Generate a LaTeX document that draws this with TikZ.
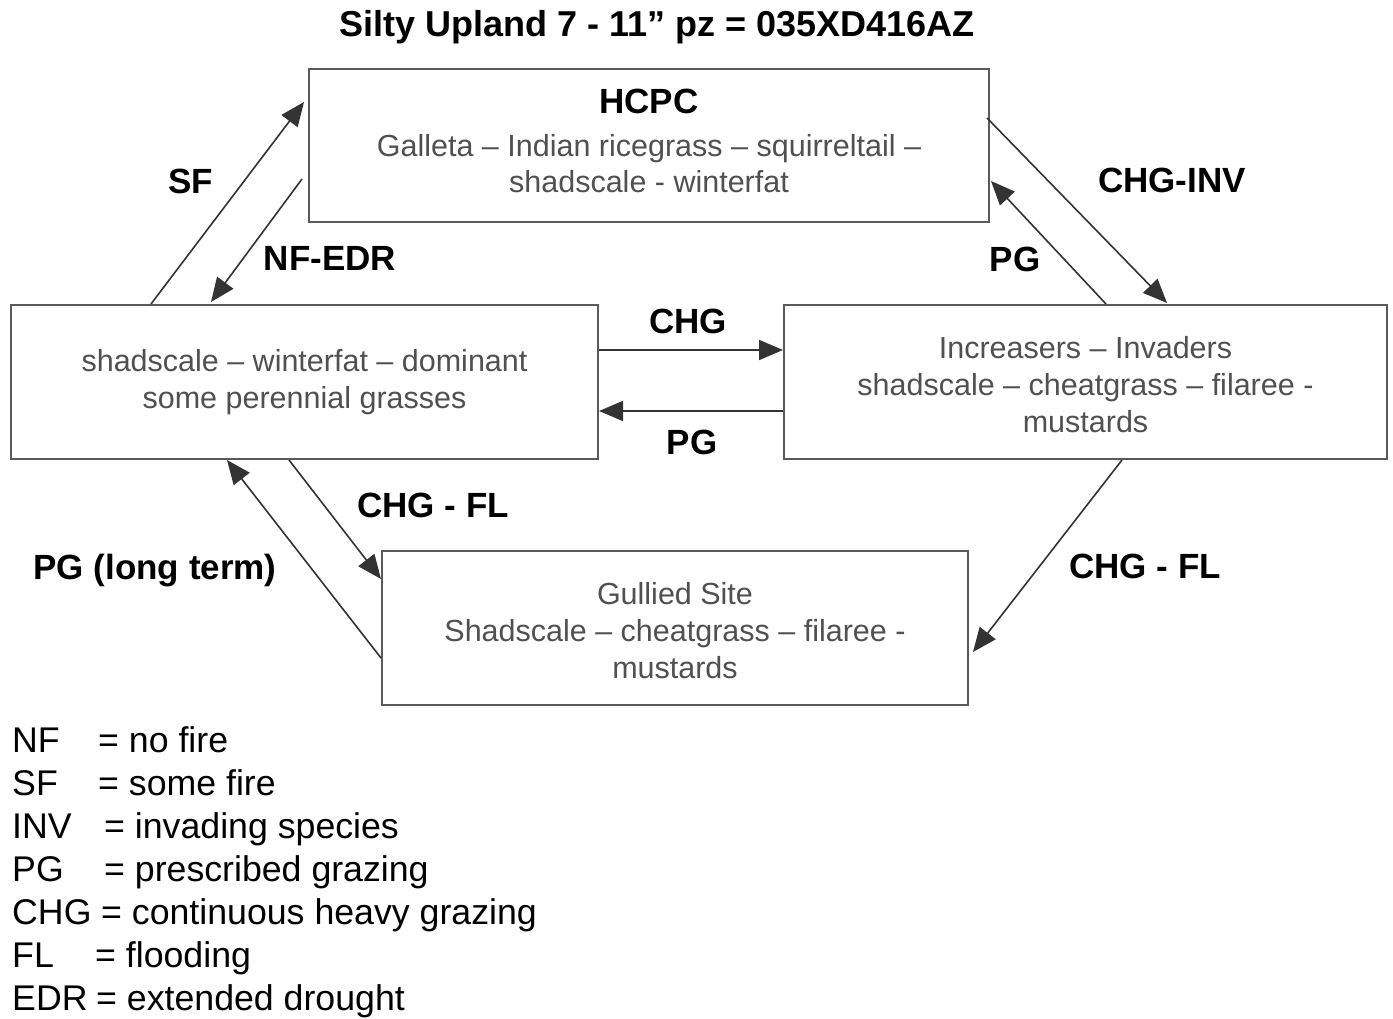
\documentclass[tikz,border=0pt]{standalone}
\usepackage{fontspec}
\setmainfont{Liberation Sans}
\usetikzlibrary{arrows.meta,calc}
\definecolor{boxline}{HTML}{5A5A5A}
\definecolor{boxtext}{HTML}{505050}
\definecolor{arr}{HTML}{333333}
\begin{document}
\begin{tikzpicture}[x=1pt,y=-1pt,
  statebox/.style={draw=boxline,line width=2pt,inner sep=0pt,align=center,text=boxtext,
    font=\fontsize{30.5}{37}\selectfont},
  trans/.style={draw=arr,line width=1.6pt,-{Triangle[length=24pt,width=20pt]}},
  lab/.style={font=\fontsize{35}{40}\selectfont\bfseries,anchor=base},
  leg/.style={font=\fontsize{35.7}{43}\selectfont,anchor=base west,inner sep=0pt}]
\useasboundingbox (0,0) rectangle (1393,1019);
\fill[white] (0,0) rectangle (1393,1019);

% title
\node[lab,font=\fontsize{36}{40}\selectfont\bfseries] (title) at (657,37) {Silty Upland 7 - 11” pz = 035XD416AZ};

% states
\node[statebox,minimum width=680pt,minimum height=153pt,font=\fontsize{30.5}{36}\selectfont] (H) at (649,145.5)
  {{\fontsize{35}{40}\selectfont\bfseries\color{black}HCPC}\\[7pt]
   Galleta – Indian ricegrass – squirreltail –\\
   shadscale - winterfat\rule[-10pt]{0pt}{10pt}};
\node[statebox,minimum width=587pt,minimum height=154pt] (L) at (304.5,382)
  {shadscale – winterfat – dominant\\ some perennial grasses};
\node[statebox,minimum width=603pt,minimum height=154pt] (R) at (1085.5,382)
  {\rule{0pt}{27pt}Increasers – Invaders\\ shadscale – cheatgrass – filaree -\\ mustards};
\node[statebox,minimum width=586pt,minimum height=154pt] (G) at (675,628)
  {\rule{0pt}{27pt}Gullied Site\\ Shadscale – cheatgrass – filaree -\\ mustards};

% transitions
\draw[trans] ($(L.north west)+(141,0)$) -- ($(H.north west)+(-4,34)$);
\draw[trans] ($(H.north west)+(-6,111)$) -- ($(L.north west)+(201,-2)$);
\draw[trans] ($(H.north east)+(-3,50)$) -- ($(R.north west)+(384,-1)$);
\draw[trans] ($(R.north west)+(323,0)$) -- ($(H.north east)+(1,113)$);
\draw[trans] ($(L.north east)+(0,46)$) -- ($(R.north west)+(0,46)$);
\draw[trans] ($(R.north west)+(0,107)$) -- ($(L.north east)+(0,107)$);
\draw[trans] ($(L.south west)+(279,0)$) -- ($(G.north west)+(0,29)$);
\draw[trans] ($(G.north west)+(0,108)$) -- ($(L.south west)+(217,0)$);
\draw[trans] ($(R.south west)+(339,0)$) -- ($(G.north east)+(4,102)$);

% transition labels
\node[lab] (lSF) at (191,193.5) {SF};
\node[lab] (lNFEDR) at (330,270.5) {NF-EDR};
\node[lab] (lCHGINV) at (1172,192.5) {CHG-INV};
\node[lab] (lPGr) at (1015,271.5) {PG};
\node[lab] (lCHG) at (688,333.5) {CHG};
\node[lab] (lPGm) at (692,454.5) {PG};
\node[lab] (lCHGFLl) at (433,517.5) {CHG - FL};
\node[lab] (lPGlt) at (155,579.5) {PG (long term)};
\node[lab] (lCHGFLr) at (1145,578.5) {CHG - FL};

% legend
\node[leg] (kNF) at (12,752) {NF};
\node[leg] (vNF) at (98,752) {= no fire};
\node[leg] (kSF) at (12,795) {SF};
\node[leg] (vSF) at (98,795) {= some fire};
\node[leg] (kINV) at (12,838) {INV};
\node[leg] (vINV) at (104,838) {= invading species};
\node[leg] (kPG) at (12,881) {PG};
\node[leg] (vPG) at (104,881) {= prescribed grazing};
\node[leg] (kCHG) at (12,924) {CHG};
\node[leg] (vCHG) at (101,924) {= continuous heavy grazing};
\node[leg] (kFL) at (12,967) {FL};
\node[leg] (vFL) at (95,967) {= flooding};
\node[leg] (kEDR) at (12,1010) {EDR};
\node[leg] (vEDR) at (96,1010) {= extended drought};
\end{tikzpicture}
\end{document}
